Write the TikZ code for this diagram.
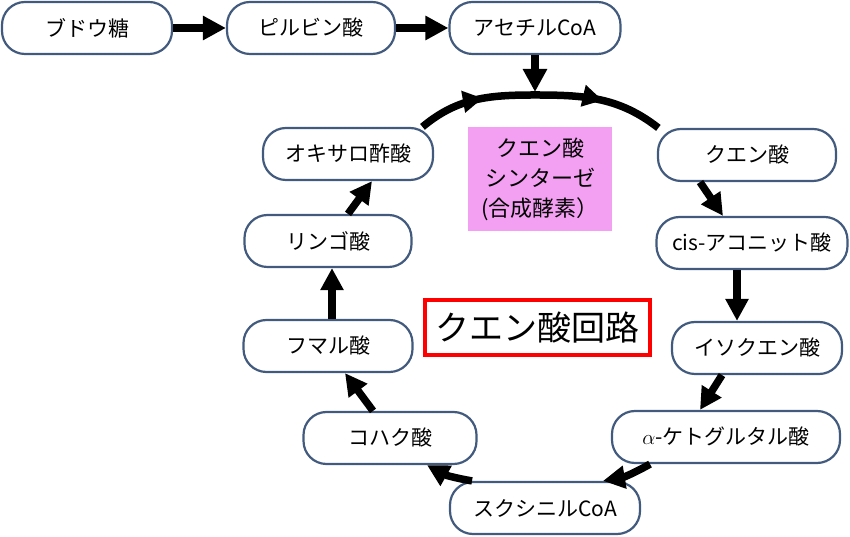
\documentclass[tikz,border=0pt]{standalone}
\usepackage{fontspec}
\setmainfont{Noto Sans CJK JP}
\usetikzlibrary{arrows.meta,decorations.markings}
\definecolor{bord}{RGB}{65,90,125}
\definecolor{pinkbg}{RGB}{244,160,242}
\begin{document}
\begin{tikzpicture}[x=1pt,y=1pt,
  box/.style={draw=bord, line width=2.2pt, rounded corners=23pt, fill=white,
    minimum height=52pt, font=\fontsize{21}{25}\selectfont, inner sep=0pt},
  flow/.style={line width=8pt, -{Triangle[length=23pt,width=23pt]}},
  cyc/.style={line width=7.5pt, -{Triangle[length=22pt,width=22pt]}},
  midtip/.style={decoration={markings,
    mark=at position 0.27 with {\arrow{Triangle[length=20pt,width=21pt]}},
    mark=at position 0.75 with {\arrow{Triangle[length=20pt,width=21pt]}}},
    postaction={decorate}},
]
\useasboundingbox (0,0) rectangle (850,537);

% top row
\node[box, minimum width=170pt] (glu) at (87,509) {ブドウ糖};
\node[box, minimum width=168pt] (pyr) at (311,509) {ピルビン酸};
\node[box, minimum width=171pt] (acc) at (535,509) {アセチルCoA};

% cycle nodes
\node[box, minimum width=170pt] (oxa) at (348,383) {オキサロ酢酸};
\node[box, minimum width=167pt] (mal) at (328,296) {リンゴ酸};
\node[box, minimum width=169pt] (fum) at (328,191) {フマル酸};
\node[box, minimum width=173pt] (suc) at (390,99) {コハク酸};
\node[box, minimum width=190pt] (scoa) at (545,29) {スクシニルCoA};
\node[box, minimum width=228pt] (akg) at (726,100) {$\alpha$-ケトグルタル酸};
\node[box, minimum width=170pt] (iso) at (757,189) {イソクエン酸};
\node[box, minimum width=191pt] (cis) at (752,294) {cis-アコニット酸};
\node[box, minimum width=178pt] (cit) at (747,382) {クエン酸};

% center labels
\node[fill=pinkbg, minimum width=144pt, minimum height=104pt, inner sep=0pt,
  align=center, font=\fontsize{22}{30}\selectfont] (enz) at (540,358)
  {クエン酸\\シンターゼ\\(合成酵素）};
\node[draw=red, line width=3.5pt, minimum width=225pt, minimum height=55pt,
  inner sep=0pt, font=\fontsize{34}{40}\selectfont] (title) at (537.5,209.5)
  {クエン酸回路};

\coordinate (top) at (535,442);

% top row arrows
\draw[flow] (glu.east) -- (pyr.west);
\draw[flow] (pyr.east) -- (acc.west);
\draw[flow] (acc.south) -- ([yshift=3pt]top);

% arc over the top
\draw[line width=7.5pt, midtip] (oxa.20) to[out=40,in=180] (top)
  to[out=0,in=142] (cit.163);

% cycle arrows
\draw[cyc] ([xshift=-47pt]cit.south) -- ([xshift=-29pt]cis.north);
\draw[cyc] ([xshift=-15pt]cis.south) -- ([xshift=-20pt]iso.north);
\draw[cyc] ([xshift=-35pt]iso.south) -- ([xshift=-26pt]akg.north);
\draw[cyc] ([xshift=-76pt]akg.south) to[bend left=10] ([xshift=58pt]scoa.north);
\draw[cyc] ([xshift=-73pt]scoa.north) to[bend left=10] ([xshift=37pt]suc.south);
\draw[cyc] ([xshift=-17pt]suc.north) -- ([xshift=17pt]fum.south);
\draw[cyc] ([xshift=4pt]fum.north) -- ([xshift=4pt]mal.south);
\draw[cyc] ([xshift=20pt]mal.north) -- ([xshift=24pt]oxa.south);
\end{tikzpicture}
\end{document}
